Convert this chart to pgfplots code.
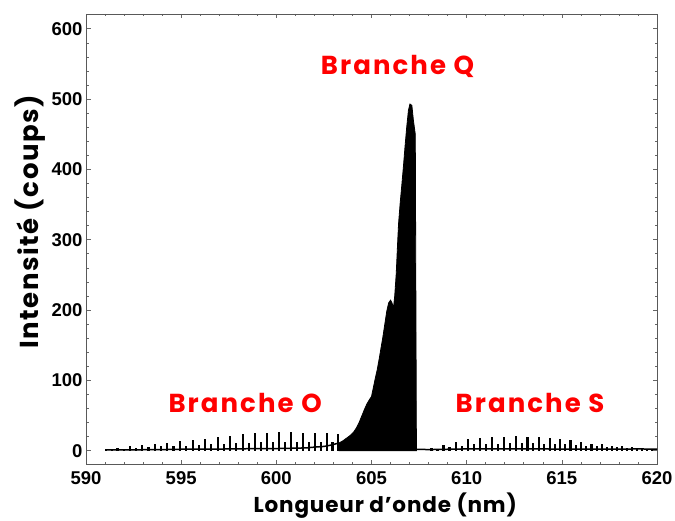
\documentclass[border=0pt]{standalone}
\usepackage{pgfplots}
\pgfplotsset{compat=1.18}
\usepackage{fontspec}
\setmainfont{Poppins}
\newfontfamily\tickfont{Liberation Sans}
\begin{document}
\begin{tikzpicture}
\begin{axis}[
  name=ax,
  scale only axis,
  width=571pt, height=450pt,
  xmin=590, xmax=620, ymin=-19, ymax=621,
  xtick={590,595,...,620}, ytick={0,100,...,600},
  minor x tick num=4, minor y tick num=4,
  major tick length=4.5pt, minor tick length=2.5pt,
  tick style={gray!80!black, line width=0.6pt},
  axis line style={gray!70!black, line width=0.8pt},
  /pgf/number format/assume math mode=true,
  ticklabel style={font=\tickfont\bfseries\fontsize{18.5}{18.5}\selectfont, text=black},
  xticklabel style={yshift=-4pt},
  xlabel={Longueur d'onde (nm)},
  ylabel={Intensité (coups)},
  xlabel style={font=\bfseries\fontsize{21.5}{21.5}\selectfont\addfontfeatures{LetterSpace=4}, at={(axis description cs:0.524,0)}, anchor=north, yshift=-25pt},
  ylabel style={font=\bfseries\fontsize{26}{26}\selectfont\addfontfeatures{LetterSpace=6}, at={(axis description cs:-0.098,0.538)}, anchor=center},
  clip=true,
]
% baseline trace
\addplot[black, line width=1.5pt] coordinates {
(591.0,1) (592,1) (593,1.3) (594,1.5) (595,2) (596,2) (597,2.3) (598,2.5) (599,3) (600,3) (601,3.5) (601.6,4) (602,5) (602.5,6) (602.9,8) (603.3,11)
};
\addplot[black, line width=1.5pt] coordinates {
(607.36,2) (608,1.5) (609,2) (610,2.5) (611,2.5) (612,2.5) (613,2.5) (614,2.5) (615,2) (616,2) (617,2) (618,2) (619,2.5) (620,2)
};
% O and S branch lines
\addplot[ycomb, black, line width=2.2pt] coordinates {
(591.05,2) (591.35,2.5) (591.66,4) (591.99,3) (592.31,6) (592.62,4) (592.93,8) (593.28,5) (593.63,10) (593.95,6)
(594.27,11) (594.60,6) (594.94,14) (595.27,7) (595.61,15) (595.93,8) (596.25,17) (596.58,9) (596.92,19) (597.24,10)
(597.57,21) (597.90,11) (598.23,23) (598.55,11) (598.88,25) (599.18,12) (599.49,25) (599.81,12) (600.14,26) (600.45,12)
(600.77,26) (601.09,12) (601.42,25) (601.73,12) (602.05,25) (602.35,12) (602.65,25) (602.95,13) (603.26,24)
(608.15,4) (608.47,3) (608.78,8) (609.10,5) (609.43,13) (609.75,7) (610.08,16) (610.40,9) (610.72,18) (611.03,10)
(611.35,19) (611.66,10) (611.97,20) (612.27,11) (612.58,21) (612.89,11) (613.20,20) (613.50,11) (613.80,19) (614.08,10)
(614.36,18) (614.63,10) (614.91,16) (615.18,9) (615.46,15) (615.74,8) (616.02,13) (616.29,7) (616.56,10) (616.83,6)
(617.10,9) (617.36,5) (617.63,7) (617.89,4.5) (618.16,6) (618.42,4) (618.68,5) (618.94,3.5) (619.20,4) (619.46,3) (619.72,3)
};
% Q branch
\addplot[fill=black, draw=black, line width=0.8pt] coordinates {
(603.30,11) (603.50,14) (603.70,18) (603.90,22) (604.05,26) (604.20,32) (604.35,40) (604.50,50) (604.62,58) (604.75,66)
(604.88,72) (605.00,77) (605.10,90) (605.20,103) (605.30,115) (605.40,130) (605.50,146) (605.60,162) (605.70,180) (605.80,198)
(605.90,210) (606.00,214) (606.08,210) (606.15,202) (606.22,220) (606.30,252) (606.36,288) (606.42,322) (606.50,350) (606.59,377)
(606.68,405) (606.76,432) (606.85,460) (606.94,484) (607.02,493) (607.12,491) (607.20,470) (607.30,450) (607.36,2)
} \closedcycle;
\node[text=red, font=\bfseries\fontsize{26}{26}\selectfont\addfontfeatures{LetterSpace=8}] at (axis cs:606.37,546) {Branche Q};
\node[text=red, font=\bfseries\fontsize{26}{26}\selectfont\addfontfeatures{LetterSpace=8}] at (axis cs:598.36,68) {Branche O};
\node[text=red, font=\bfseries\fontsize{26}{26}\selectfont\addfontfeatures{LetterSpace=8}] at (axis cs:613.33,68) {Branche S};
\end{axis}
\pgfresetboundingbox
\path[use as bounding box] ([shift={(-86pt,-56pt)}]ax.south west) rectangle ([shift={(18pt,14pt)}]ax.north east);
\end{tikzpicture}
\end{document}
